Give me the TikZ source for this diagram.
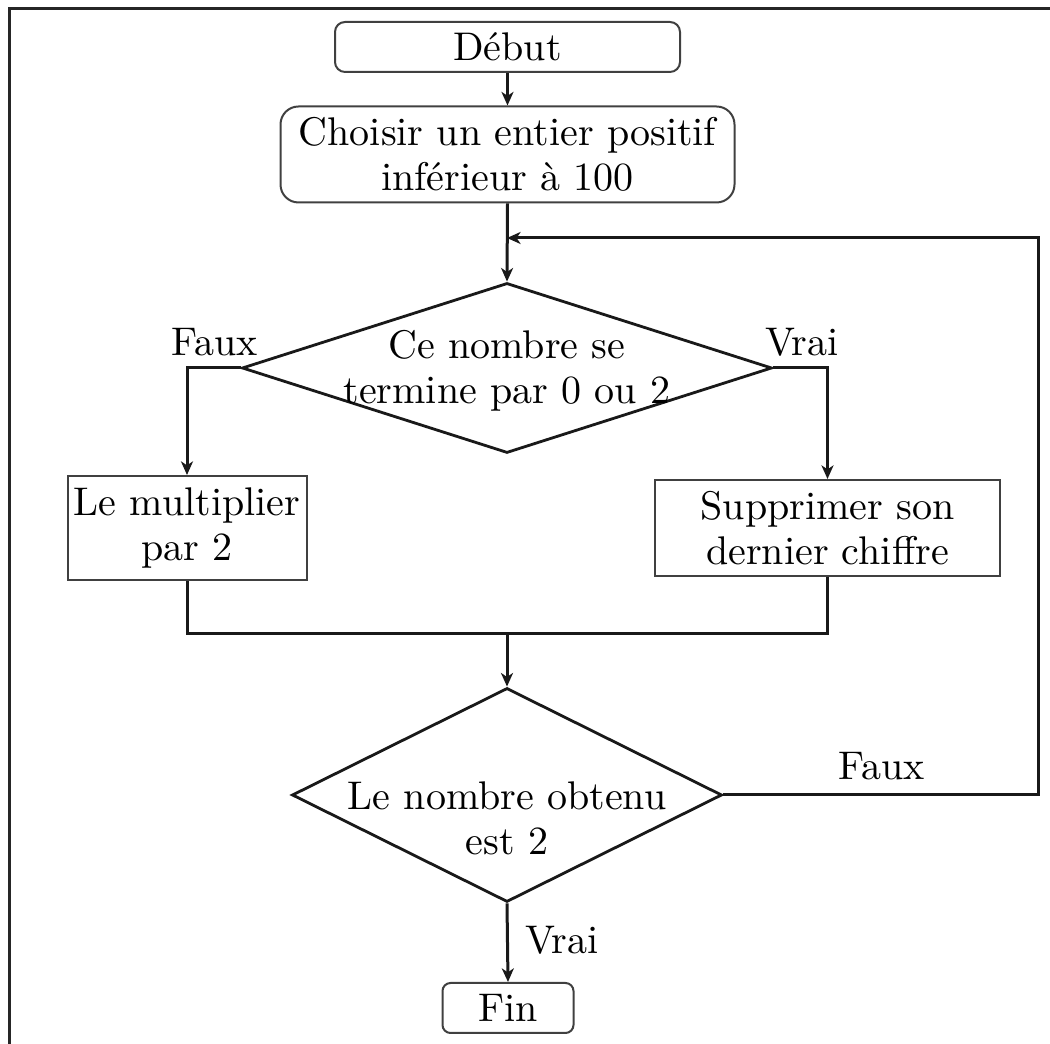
\documentclass[tikz,border=0pt]{standalone}
\usetikzlibrary{shapes.geometric,arrows.meta}
\begin{document}
\begin{tikzpicture}[x=0.25pt,y=-0.25pt,
  every node/.style={font=\fontsize{10}{11.2}\selectfont, inner sep=0pt},
  boxst/.style={draw=black!75, line width=0.5pt, rectangle, align=center},
  rbox/.style={boxst, rounded corners=#1},
  dia/.style={draw=black!90, line width=0.7pt, diamond, inner sep=0pt},
  txt/.style={align=center},
  conn/.style={draw=black!90, line width=0.75pt},
  arr/.style={conn, -{Stealth[length=3.4pt,width=3pt,inset=1pt]}}]
\useasboundingbox (0,0) rectangle (1050,1044);
% frame (screenshot edges)
\coordinate (f0) at (9,9);
\coordinate (f1) at (1050,9);
\coordinate (f2) at (9,1044);
\draw[black!85, line width=0.75pt] (f1) -- (f0) -- (f2);

% nodes
\node[rbox=2.5pt, minimum width=86.25pt, minimum height=12.5pt] (debut) at (507.5,47) {D\'ebut};
\node[rbox=4.5pt, minimum width=113.5pt, minimum height=24pt] (choisir) at (507.5,154.5)
  {Choisir un entier positif\\inf\'erieur \`a 100};
\node[dia, minimum width=132.5pt, minimum height=42.5pt] (d1) at (507,368) {};
\node[txt] (t1) at (507,371) {Ce nombre se\\termine par 0 ou 2};
\node[boxst, minimum width=59.75pt, minimum height=26pt] (b1) at (187,528) {Le multiplier\\par 2};
\node[boxst, minimum width=86.25pt, minimum height=24pt] (b2) at (827.5,528) {Supprimer son\\dernier chiffre};
\node[dia, minimum width=107.5pt, minimum height=53.5pt] (d2) at (507,795) {};
\node[txt] (t2) at (507,818) {Le nombre obtenu\\est 2};
\node[rbox=2pt, minimum width=32.75pt, minimum height=12.5pt] (fin) at (508,1008) {Fin};

% labels
\node (l1) at (215,342) {Faux};
\node (l2) at (802,342) {Vrai};
\node (l3) at (882,766) {Faux};
\node (l4) at (562,940) {Vrai};

% helper coordinates
\coordinate (j1) at (507,238);
\coordinate (c1) at (1038,238);
\coordinate (m) at (507,634);

% connectors
\draw[arr] (debut.south) -- (choisir.north);
\draw[arr] (choisir.south) -- (d1.north);
\draw[arr] (d1.west) -| (b1.north);
\draw[arr] (d1.east) -| (b2.north);
\draw[conn] (b1.south) |- (m);
\draw[conn] (b2.south) |- (m);
\draw[arr] (m) -- (d2.north);
\draw[arr] (d2.east) -| (c1) -- (j1);
\draw[arr] (d2.south) -- (fin.north);
\end{tikzpicture}
\end{document}
